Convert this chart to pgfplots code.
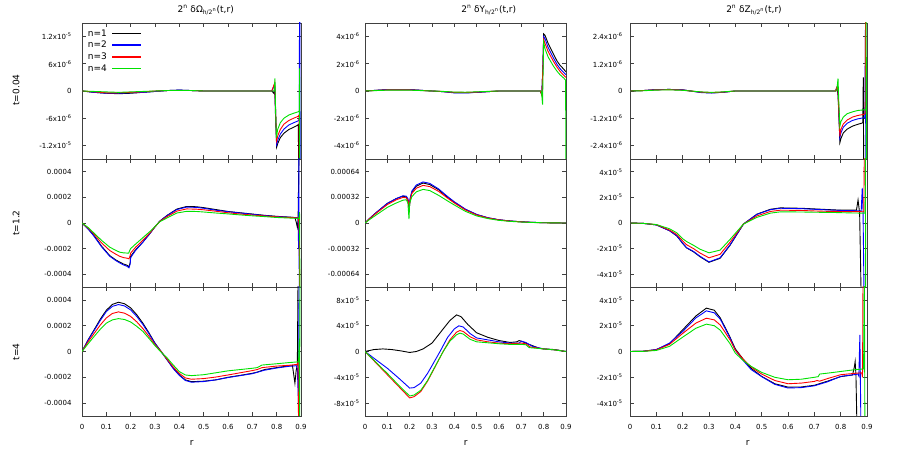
\documentclass[border=0pt]{standalone}
\usepackage{fontspec}
\setmainfont{DejaVu Sans}
\usepackage{pgfplots}
\pgfplotsset{compat=1.18}
\definecolor{cgreen}{RGB}{0,225,0}
\definecolor{cblue}{RGB}{0,0,255}
\definecolor{cred}{RGB}{255,0,0}
\newcommand{\tk}{\fontsize{7}{8}\selectfont}
\newcommand{\lab}{\fontsize{9}{10}\selectfont}
\newcommand{\sx}[1]{x10\textsuperscript{#1}}
\pgfplotsset{
  panel/.style={
    scale only axis, anchor=south west, xmin=0, xmax=0.9,
    xtick={0,0.1,0.2,0.3,0.4,0.5,0.6,0.7,0.8,0.9},
    xticklabels={},
    scaled y ticks=false, scaled x ticks=false,
    axis line style={black!75, line width=0.7pt},
    tick style={black!75, line width=0.6pt},
    major tick length=4pt,
    tick label style={font=\tk},
    every axis plot/.append style={line width=0.9pt, mark=none},
    clip=true,
  },
  bottom/.style={xticklabels={0,0.1,0.2,0.3,0.4,0.5,0.6,0.7,0.8,0.9}, xticklabel style={yshift=-5pt}},
  c1/.style={width=219pt, yticklabel style={xshift=-7pt}},
  c2/.style={width=201pt, yticklabel style={xshift=-2pt}},
  c3/.style={width=237pt, yticklabel style={xshift=-4pt}},
  r1/.style={height=136pt},
  r2/.style={height=128pt},
  r3/.style={height=129pt},
}
\begin{document}
\begin{tikzpicture}
\path[use as bounding box] (0,0) rectangle (913pt,457pt);
% ---------------- Row 1 ----------------
\begin{axis}[panel,c1,r1,at={(82pt,298pt)},
  ymin=-1.5e-5,ymax=1.5e-5, ytick={-1.2e-5,-6e-6,0,6e-6,1.2e-5},
  yticklabels={-1.2\sx{-5},-6\sx{-6},0,6\sx{-6},1.2\sx{-5}},
  legend plot pos=right, legend cell align=left,
  legend image code/.code={\draw[#1, line width=1.4pt] (0pt,0pt) -- (29pt,0pt);},
  legend style={draw=none, fill=none, at={(0.015,0.975)}, anchor=north west, font=\lab, inner sep=1pt, row sep=0.3pt, column sep=3pt,
    nodes={inner sep=1.5pt, text height=7pt, text depth=1.5pt}}]
\addplot[black] coordinates {(0,0)(0.05,-3e-7)(0.1,-5e-7)(0.15,-6e-7)(0.2,-5e-7)(0.25,-3e-7)(0.3,-1e-7)(0.35,1e-7)(0.4,2e-7)(0.45,1e-7)(0.5,0)(0.6,0)(0.7,0)(0.78,0)(0.788,-5e-7)(0.792,1e-6)(0.795,-5e-6)(0.8,-1.24e-5)(0.805,-1.15e-5)(0.815,-1.03e-5)(0.83,-9.3e-6)(0.85,-8.5e-6)(0.87,-8e-6)(0.885,-7.6e-6)(0.889,-7.4e-6)(0.892,-3e-5)};
\addplot[cblue] coordinates {(0,0)(0.05,-3e-7)(0.1,-5e-7)(0.15,-5e-7)(0.2,-4e-7)(0.25,-3e-7)(0.3,-1e-7)(0.35,1e-7)(0.4,2e-7)(0.45,1e-7)(0.5,0)(0.6,0)(0.7,0)(0.78,0)(0.792,1.5e-6)(0.796,-5e-6)(0.8,-1.18e-5)(0.805,-1.08e-5)(0.815,-9.5e-6)(0.83,-8.4e-6)(0.85,-7.5e-6)(0.87,-7e-6)(0.888,-6.6e-6)(0.893,-6.2e-6)(0.895,5e-5)(0.897,-5e-5)};
\addplot[cred] coordinates {(0,0)(0.05,-2e-7)(0.1,-4e-7)(0.15,-4e-7)(0.2,-3e-7)(0.25,-2e-7)(0.3,0)(0.35,1e-7)(0.4,1e-7)(0.45,1e-7)(0.5,0)(0.6,0)(0.7,0)(0.78,0)(0.792,1.8e-6)(0.796,-5e-6)(0.8,-1.1e-5)(0.805,-9.8e-6)(0.815,-8.5e-6)(0.83,-7.3e-6)(0.85,-6.5e-6)(0.87,-6e-6)(0.888,-5.6e-6)(0.892,-5.3e-6)(0.894,-5e-5)};
\addplot[cgreen] coordinates {(0,0)(0.05,-1e-7)(0.1,-2e-7)(0.15,-3e-7)(0.2,-2e-7)(0.25,-1e-7)(0.3,0)(0.35,1e-7)(0.4,1e-7)(0.45,1e-7)(0.5,0)(0.6,0)(0.7,0)(0.79,0)(0.793,2.8e-6)(0.796,-5e-6)(0.799,-1.03e-5)(0.804,-8.5e-6)(0.815,-7e-6)(0.83,-6e-6)(0.85,-5.3e-6)(0.87,-4.9e-6)(0.888,-4.6e-6)(0.893,-4.4e-6)(0.894,5e-6)(0.895,-5e-5)};
\legend{n=1,n=2,n=3,n=4}
\end{axis}
\begin{axis}[panel,c2,r1,at={(365pt,298pt)},
  ymin=-5e-6,ymax=5e-6, ytick={-4e-6,-2e-6,0,2e-6,4e-6},
  yticklabels={-4\sx{-6},-2\sx{-6},0,2\sx{-6},4\sx{-6}}]
\addplot[black] coordinates {(0,0)(0.05,5e-8)(0.1,1e-7)(0.15,1e-7)(0.2,1e-7)(0.25,5e-8)(0.3,0)(0.35,-5e-8)(0.4,-1.2e-7)(0.45,-1.3e-7)(0.5,-1e-7)(0.55,-5e-8)(0.6,0)(0.7,0)(0.785,0)(0.792,-3e-7)(0.797,2e-6)(0.8,4.2e-6)(0.806,4.1e-6)(0.82,3.5e-6)(0.843,2.74e-6)(0.86,2.2e-6)(0.873,1.9e-6)(0.89,1.6e-6)(0.9,1.4e-6)};
\addplot[cblue] coordinates {(0,0)(0.05,5e-8)(0.1,1e-7)(0.15,1e-7)(0.2,1e-7)(0.25,5e-8)(0.3,0)(0.35,-5e-8)(0.4,-1.4e-7)(0.45,-1.5e-7)(0.5,-1e-7)(0.55,-5e-8)(0.6,0)(0.7,0)(0.785,0)(0.792,-2e-7)(0.797,2e-6)(0.8,4.0e-6)(0.806,3.85e-6)(0.82,3.2e-6)(0.843,2.45e-6)(0.86,1.95e-6)(0.873,1.65e-6)(0.89,1.35e-6)(0.9,1.2e-6)};
\addplot[cred] coordinates {(0,0)(0.05,4e-8)(0.1,8e-8)(0.15,8e-8)(0.2,8e-8)(0.25,4e-8)(0.3,0)(0.35,-4e-8)(0.4,-1e-7)(0.45,-1.1e-7)(0.5,-8e-8)(0.55,-4e-8)(0.6,0)(0.7,0)(0.785,0)(0.792,-3e-7)(0.797,2e-6)(0.8,3.8e-6)(0.806,3.5e-6)(0.82,2.9e-6)(0.843,2.2e-6)(0.86,1.75e-6)(0.873,1.45e-6)(0.89,1.15e-6)(0.9,1.0e-6)};
\addplot[cgreen] coordinates {(0,0)(0.05,3e-8)(0.1,6e-8)(0.15,6e-8)(0.2,6e-8)(0.25,3e-8)(0.3,0)(0.35,-3e-8)(0.4,-8e-8)(0.45,-9e-8)(0.5,-6e-8)(0.55,-3e-8)(0.6,0)(0.7,0)(0.79,0)(0.795,-1.0e-6)(0.797,1e-6)(0.8,3.6e-6)(0.806,3.1e-6)(0.82,2.5e-6)(0.843,1.85e-6)(0.86,1.45e-6)(0.873,1.2e-6)(0.89,0.95e-6)(0.898,0.8e-6)(0.9,-6e-6)};
\end{axis}
\begin{axis}[panel,c3,r1,at={(630pt,298pt)},
  ymin=-3e-6,ymax=3e-6, ytick={-2.4e-6,-1.2e-6,0,1.2e-6,2.4e-6},
  yticklabels={-2.4\sx{-6},-1.2\sx{-6},0,1.2\sx{-6},2.4\sx{-6}}]
\addplot[black] coordinates {(0,0)(0.05,2e-8)(0.1,6e-8)(0.15,7e-8)(0.2,5e-8)(0.23,0)(0.27,-6e-8)(0.31,-8e-8)(0.35,-6e-8)(0.4,0)(0.5,0)(0.6,0)(0.7,0)(0.78,0)(0.787,1e-7)(0.79,-2e-7)(0.793,-1e-6)(0.797,-2.28e-6)(0.801,-2.1e-6)(0.81,-1.85e-6)(0.825,-1.68e-6)(0.845,-1.55e-6)(0.865,-1.47e-6)(0.88,-1.42e-6)(0.884,-1.4e-6)(0.886,0.6e-6)(0.888,-5e-6)};
\addplot[cblue] coordinates {(0,0)(0.05,2e-8)(0.1,6e-8)(0.15,7e-8)(0.2,5e-8)(0.23,0)(0.27,-7e-8)(0.31,-9e-8)(0.35,-6e-8)(0.4,0)(0.5,0)(0.6,0)(0.7,0)(0.78,0)(0.787,2e-7)(0.79,0)(0.797,-2.06e-6)(0.801,-1.85e-6)(0.81,-1.6e-6)(0.825,-1.42e-6)(0.845,-1.3e-6)(0.865,-1.23e-6)(0.888,-1.18e-6)(0.892,-1.15e-6)(0.894,2.7e-6)(0.896,-5e-6)};
\addplot[cred] coordinates {(0,0)(0.05,2e-8)(0.1,5e-8)(0.15,6e-8)(0.2,4e-8)(0.23,0)(0.27,-5e-8)(0.31,-7e-8)(0.35,-5e-8)(0.4,0)(0.5,0)(0.6,0)(0.7,0)(0.78,0)(0.787,2e-7)(0.79,0)(0.797,-2.0e-6)(0.801,-1.7e-6)(0.81,-1.45e-6)(0.825,-1.28e-6)(0.845,-1.15e-6)(0.865,-1.08e-6)(0.888,-1.03e-6)(0.893,-1e-6)(0.895,5e-6)};
\addplot[cgreen] coordinates {(0,0)(0.05,1e-8)(0.1,4e-8)(0.15,5e-8)(0.2,3e-8)(0.23,0)(0.27,-4e-8)(0.31,-6e-8)(0.35,-4e-8)(0.4,0)(0.5,0)(0.6,0)(0.7,0)(0.785,0)(0.79,5.5e-7)(0.793,-5e-7)(0.797,-1.56e-6)(0.801,-1.35e-6)(0.81,-1.15e-6)(0.825,-1.0e-6)(0.845,-0.92e-6)(0.865,-0.86e-6)(0.89,-0.83e-6)(0.896,-0.83e-6)(0.897,5e-6)(0.898,-5e-6)};
\end{axis}
% ---------------- Row 2 ----------------
\begin{axis}[panel,c1,r2,at={(82pt,170pt)},
  ymin=-5e-4,ymax=5e-4, ytick={-4e-4,-2e-4,0,2e-4,4e-4},
  yticklabels={-0.0004,-0.0002,0,0.0002,0.0004}]
\addplot[black] coordinates {(0,0)(0.025,-4.5e-5)(0.05,-1.0e-4)(0.08,-1.8e-4)(0.114,-2.55e-4)(0.14,-2.9e-4)(0.155,-3.05e-4)(0.17,-3.2e-4)(0.185,-3.3e-4)(0.193,-3.42e-4)(0.198,-3.1e-4)(0.2,-2.6e-4)(0.22,-2.1e-4)(0.25,-1.5e-4)(0.28,-8e-5)(0.3,-3e-5)(0.32,1.5e-5)(0.35,6e-5)(0.39,1.09e-4)(0.43,1.29e-4)(0.47,1.27e-4)(0.5,1.2e-4)(0.55,1.05e-4)(0.6,9e-5)(0.65,8e-5)(0.7,7e-5)(0.75,6e-5)(0.8,5.2e-5)(0.86,4.5e-5)(0.875,4.2e-5)(0.88,1e-5)(0.885,-3.4e-5)(0.888,2e-5)(0.892,6e-4)};
\addplot[cblue] coordinates {(0,0)(0.025,-4.7e-5)(0.05,-1.05e-4)(0.08,-1.85e-4)(0.114,-2.6e-4)(0.14,-2.95e-4)(0.155,-3.12e-4)(0.17,-3.27e-4)(0.185,-3.38e-4)(0.193,-3.5e-4)(0.198,-3.2e-4)(0.2,-2.7e-4)(0.22,-2.15e-4)(0.25,-1.5e-4)(0.28,-8e-5)(0.3,-3e-5)(0.32,1.5e-5)(0.35,5.8e-5)(0.39,1.05e-4)(0.43,1.24e-4)(0.47,1.22e-4)(0.5,1.15e-4)(0.55,1.0e-4)(0.6,8.8e-5)(0.65,7.8e-5)(0.7,6.8e-5)(0.75,5.8e-5)(0.8,5e-5)(0.86,4.4e-5)(0.888,4.2e-5)(0.89,-2e-4)(0.891,6e-4)(0.893,-6e-4)};
\addplot[cred] coordinates {(0,0)(0.025,-4e-5)(0.05,-8.8e-5)(0.08,-1.55e-4)(0.114,-2.15e-4)(0.14,-2.45e-4)(0.155,-2.6e-4)(0.17,-2.7e-4)(0.185,-2.75e-4)(0.193,-2.8e-4)(0.197,-2.6e-4)(0.2,-2.35e-4)(0.22,-1.9e-4)(0.25,-1.35e-4)(0.28,-7.5e-5)(0.3,-3e-5)(0.32,1.3e-5)(0.35,5e-5)(0.39,9.3e-5)(0.43,1.1e-4)(0.47,1.08e-4)(0.5,1.03e-4)(0.55,9.2e-5)(0.6,8e-5)(0.65,7e-5)(0.7,6.2e-5)(0.75,5.5e-5)(0.8,4.8e-5)(0.86,4.2e-5)(0.89,4e-5)(0.893,-1e-4)(0.895,-6e-4)};
\addplot[cgreen] coordinates {(0,0)(0.025,-3.5e-5)(0.05,-8e-5)(0.08,-1.35e-4)(0.114,-1.89e-4)(0.14,-2.15e-4)(0.155,-2.28e-4)(0.17,-2.33e-4)(0.185,-2.35e-4)(0.192,-2.35e-4)(0.196,-2.15e-4)(0.2,-2.0e-4)(0.22,-1.65e-4)(0.25,-1.15e-4)(0.28,-6.5e-5)(0.3,-2.8e-5)(0.32,1e-5)(0.35,4e-5)(0.39,7.8e-5)(0.43,9.1e-5)(0.47,9e-5)(0.5,8.6e-5)(0.55,7.8e-5)(0.6,7.1e-5)(0.65,6.3e-5)(0.7,5.6e-5)(0.75,5e-5)(0.8,4.3e-5)(0.86,3.8e-5)(0.892,3.6e-5)(0.894,8.5e-5)(0.896,-6e-4)};
\end{axis}
\begin{axis}[panel,c2,r2,at={(365pt,170pt)},
  ymin=-8e-4,ymax=8e-4, ytick={-6.4e-4,-3.2e-4,0,3.2e-4,6.4e-4},
  yticklabels={-0.00064,-0.00032,0,0.00032,0.00064}]
\addplot[black] coordinates {(0,0)(0.02,5.5e-5)(0.05,1.3e-4)(0.1,2.45e-4)(0.14,3.05e-4)(0.17,3.35e-4)(0.185,3.25e-4)(0.193,2.7e-4)(0.198,1.7e-4)(0.202,2.9e-4)(0.21,3.9e-4)(0.23,4.6e-4)(0.26,5.0e-4)(0.29,4.8e-4)(0.33,4.15e-4)(0.37,3.2e-4)(0.4,2.6e-4)(0.45,1.7e-4)(0.5,1.05e-4)(0.55,6.5e-5)(0.6,4e-5)(0.65,2.5e-5)(0.7,1.5e-5)(0.75,8e-6)(0.8,4e-6)(0.85,1e-6)(0.9,0)};
\addplot[cblue] coordinates {(0,0)(0.02,5.5e-5)(0.05,1.3e-4)(0.1,2.45e-4)(0.14,3.05e-4)(0.17,3.4e-4)(0.185,3.35e-4)(0.193,3.0e-4)(0.198,2.0e-4)(0.202,3.1e-4)(0.21,4.0e-4)(0.23,4.75e-4)(0.26,5.13e-4)(0.29,4.95e-4)(0.33,4.25e-4)(0.37,3.3e-4)(0.4,2.65e-4)(0.45,1.72e-4)(0.5,1.07e-4)(0.55,6.6e-5)(0.6,4e-5)(0.65,2.5e-5)(0.7,1.5e-5)(0.75,8e-6)(0.8,4e-6)(0.85,1e-6)(0.9,0)};
\addplot[cred] coordinates {(0,0)(0.02,5.2e-5)(0.05,1.22e-4)(0.1,2.3e-4)(0.14,2.9e-4)(0.17,3.2e-4)(0.185,3.15e-4)(0.193,2.8e-4)(0.198,2.0e-4)(0.202,2.9e-4)(0.21,3.7e-4)(0.23,4.35e-4)(0.26,4.7e-4)(0.29,4.55e-4)(0.33,3.95e-4)(0.37,3.1e-4)(0.4,2.5e-4)(0.45,1.62e-4)(0.5,1.0e-4)(0.55,6.2e-5)(0.6,3.8e-5)(0.65,2.4e-5)(0.7,1.4e-5)(0.75,7e-6)(0.8,3e-6)(0.85,1e-6)(0.9,0)};
\addplot[cgreen] coordinates {(0,0)(0.02,4.2e-5)(0.05,1.0e-4)(0.1,1.95e-4)(0.14,2.5e-4)(0.17,2.85e-4)(0.185,2.9e-4)(0.192,2.5e-4)(0.197,5e-5)(0.2,2.5e-4)(0.21,3.3e-4)(0.23,3.9e-4)(0.26,4.2e-4)(0.29,4.05e-4)(0.33,3.45e-4)(0.37,2.75e-4)(0.4,2.25e-4)(0.45,1.45e-4)(0.5,8.8e-5)(0.55,5.5e-5)(0.6,3.3e-5)(0.65,2e-5)(0.7,1.2e-5)(0.75,6e-6)(0.8,3e-6)(0.85,1e-6)(0.9,0)};
\end{axis}
\begin{axis}[panel,c3,r2,at={(630pt,170pt)},
  ymin=-5e-5,ymax=5e-5, ytick={-4e-5,-2e-5,0,2e-5,4e-5},
  yticklabels={-4\sx{-5},-2\sx{-5},0,2\sx{-5},4\sx{-5}}]
\addplot[black] coordinates {(0,0)(0.05,-3e-7)(0.1,-1.5e-6)(0.15,-6e-6)(0.178,-1.02e-5)(0.2,-1.6e-5)(0.215,-1.95e-5)(0.241,-2.25e-5)(0.266,-2.64e-5)(0.3,-3.07e-5)(0.342,-2.76e-5)(0.38,-1.74e-5)(0.431,-8e-7)(0.482,6.9e-6)(0.533,1.07e-5)(0.571,1.18e-5)(0.65,1.15e-5)(0.7,1.1e-5)(0.75,1.05e-5)(0.8,1.0e-5)(0.86,1.0e-5)(0.866,1.8e-5)(0.872,8e-6)(0.878,-6e-5)};
\addplot[cblue] coordinates {(0,0)(0.05,-3e-7)(0.1,-1.5e-6)(0.15,-6e-6)(0.178,-1.0e-5)(0.2,-1.58e-5)(0.215,-1.93e-5)(0.241,-2.22e-5)(0.266,-2.6e-5)(0.3,-3.04e-5)(0.342,-2.72e-5)(0.38,-1.7e-5)(0.431,-8e-7)(0.482,6.7e-6)(0.533,1.04e-5)(0.571,1.15e-5)(0.65,1.12e-5)(0.7,1.07e-5)(0.75,1.02e-5)(0.8,9.8e-6)(0.878,9.5e-6)(0.882,2.75e-5)(0.885,9e-6)(0.889,-6e-5)};
\addplot[cred] coordinates {(0,0)(0.05,-3e-7)(0.1,-1.3e-6)(0.15,-5.5e-6)(0.178,-9e-6)(0.2,-1.4e-5)(0.215,-1.7e-5)(0.241,-2.0e-5)(0.266,-2.35e-5)(0.3,-2.72e-5)(0.342,-2.45e-5)(0.38,-1.5e-5)(0.431,-8e-7)(0.482,5.5e-6)(0.533,9e-6)(0.571,1.0e-5)(0.65,9.8e-6)(0.7,9.4e-6)(0.75,9.1e-6)(0.8,9e-6)(0.888,8.8e-6)(0.89,6e-5)};
\addplot[cgreen] coordinates {(0,0)(0.05,-3e-7)(0.1,-1.2e-6)(0.15,-4.5e-6)(0.178,-7.7e-6)(0.2,-1.23e-5)(0.215,-1.45e-5)(0.241,-1.74e-5)(0.266,-2.05e-5)(0.3,-2.33e-5)(0.342,-2.12e-5)(0.38,-1.28e-5)(0.431,-8e-7)(0.482,4.4e-6)(0.533,7.7e-6)(0.571,8.7e-6)(0.65,8.6e-6)(0.7,8.4e-6)(0.774,8.2e-6)(0.85,7.8e-6)(0.893,7.7e-6)(0.894,6e-5)(0.895,-6e-5)};
\end{axis}
% ---------------- Row 3 ----------------
\begin{axis}[panel,c1,r3,bottom,at={(82pt,41pt)},
  ymin=-5e-4,ymax=5e-4, ytick={-4e-4,-2e-4,0,2e-4,4e-4},
  yticklabels={-0.0004,-0.0002,0,0.0002,0.0004}]
\addplot[black] coordinates {(0,0)(0.025,9e-5)(0.05,1.69e-4)(0.075,2.5e-4)(0.1,3.2e-4)(0.125,3.65e-4)(0.15,3.82e-4)(0.175,3.7e-4)(0.2,3.38e-4)(0.225,2.85e-4)(0.25,2.2e-4)(0.275,1.45e-4)(0.3,6.5e-5)(0.325,0)(0.35,-6.5e-5)(0.375,-1.3e-4)(0.4,-1.82e-4)(0.425,-2.2e-4)(0.45,-2.34e-4)(0.5,-2.3e-4)(0.55,-2.2e-4)(0.6,-2.0e-4)(0.65,-1.85e-4)(0.7,-1.69e-4)(0.72,-1.6e-4)(0.75,-1.4e-4)(0.8,-1.25e-4)(0.85,-1.11e-4)(0.865,-1.1e-4)(0.875,-2.46e-4)(0.88,-1.5e-4)(0.885,-1e-4)(0.888,6e-4)};
\addplot[cblue] coordinates {(0,0)(0.025,8.7e-5)(0.05,1.63e-4)(0.075,2.4e-4)(0.1,3.1e-4)(0.125,3.5e-4)(0.15,3.64e-4)(0.175,3.53e-4)(0.2,3.22e-4)(0.225,2.72e-4)(0.25,2.1e-4)(0.275,1.38e-4)(0.3,6.2e-5)(0.325,0)(0.35,-6.5e-5)(0.375,-1.32e-4)(0.4,-1.85e-4)(0.425,-2.25e-4)(0.45,-2.38e-4)(0.5,-2.33e-4)(0.55,-2.2e-4)(0.6,-2.02e-4)(0.65,-1.87e-4)(0.7,-1.72e-4)(0.75,-1.45e-4)(0.8,-1.28e-4)(0.85,-1.15e-4)(0.88,-1.1e-4)(0.885,-1.3e-4)(0.89,-4.37e-4)(0.892,6e-4)};
\addplot[cred] coordinates {(0,0)(0.025,7.5e-5)(0.05,1.4e-4)(0.075,2.05e-4)(0.1,2.6e-4)(0.125,2.95e-4)(0.15,3.07e-4)(0.175,2.97e-4)(0.2,2.72e-4)(0.225,2.3e-4)(0.25,1.78e-4)(0.275,1.18e-4)(0.3,5.3e-5)(0.325,0)(0.35,-6e-5)(0.375,-1.2e-4)(0.4,-1.7e-4)(0.425,-2.05e-4)(0.45,-2.15e-4)(0.5,-2.1e-4)(0.55,-1.98e-4)(0.6,-1.82e-4)(0.65,-1.65e-4)(0.7,-1.48e-4)(0.72,-1.4e-4)(0.74,-1.25e-4)(0.8,-1.13e-4)(0.85,-1.07e-4)(0.885,-1.0e-4)(0.888,-8e-5)(0.89,-6e-4)};
\addplot[cgreen] coordinates {(0,0)(0.025,6e-5)(0.05,1.17e-4)(0.075,1.72e-4)(0.1,2.2e-4)(0.125,2.45e-4)(0.15,2.55e-4)(0.175,2.48e-4)(0.2,2.29e-4)(0.225,1.95e-4)(0.25,1.56e-4)(0.275,1.02e-4)(0.3,4.5e-5)(0.325,-5e-6)(0.35,-5e-5)(0.375,-1.05e-4)(0.4,-1.56e-4)(0.425,-1.82e-4)(0.45,-1.87e-4)(0.5,-1.8e-4)(0.55,-1.65e-4)(0.6,-1.5e-4)(0.65,-1.4e-4)(0.7,-1.3e-4)(0.72,-1.25e-4)(0.74,-1.05e-4)(0.8,-9.5e-5)(0.85,-8.6e-5)(0.89,-8e-5)(0.893,1e-4)(0.894,-6e-4)(0.896,6e-4)};
\end{axis}
\begin{axis}[panel,c2,r3,bottom,at={(365pt,41pt)},
  ymin=-1e-4,ymax=1e-4, ytick={-8e-5,-4e-5,0,4e-5,8e-5},
  yticklabels={-8\sx{-5},-4\sx{-5},0,4\sx{-5},8\sx{-5}}]
\addplot[black] coordinates {(0,0)(0.04,3e-6)(0.08,4e-6)(0.12,3e-6)(0.16,1e-6)(0.2,-1.5e-6)(0.23,0)(0.26,4e-6)(0.3,1.3e-5)(0.35,3.5e-5)(0.38,4.8e-5)(0.41,5.68e-5)(0.43,5.4e-5)(0.46,4.2e-5)(0.5,2.9e-5)(0.55,2.2e-5)(0.6,1.7e-5)(0.65,1.4e-5)(0.68,1.5e-5)(0.69,1.7e-5)(0.7,1.6e-5)(0.72,1.3e-5)(0.75,9e-6)(0.78,5e-6)(0.8,4e-6)(0.85,3e-6)(0.9,0)};
\addplot[cblue] coordinates {(0,0)(0.05,-1.3e-5)(0.1,-2.6e-5)(0.15,-4.1e-5)(0.2,-5.67e-5)(0.22,-5.6e-5)(0.25,-4.9e-5)(0.28,-3.4e-5)(0.3,-2.2e-5)(0.336,0)(0.37,2.2e-5)(0.4,3.5e-5)(0.42,3.98e-5)(0.44,3.8e-5)(0.47,2.8e-5)(0.5,2.1e-5)(0.55,1.8e-5)(0.6,1.5e-5)(0.65,1.3e-5)(0.69,1.3e-5)(0.7,1.6e-5)(0.72,1.4e-5)(0.75,8e-6)(0.8,4e-6)(0.85,2.5e-6)(0.9,0)};
\addplot[cred] coordinates {(0,0)(0.05,-1.8e-5)(0.1,-3.6e-5)(0.15,-5.4e-5)(0.2,-7.2e-5)(0.22,-7.0e-5)(0.25,-6.2e-5)(0.28,-4.6e-5)(0.3,-3.3e-5)(0.35,0)(0.38,1.8e-5)(0.41,3.0e-5)(0.425,3.25e-5)(0.44,3.1e-5)(0.47,2.3e-5)(0.5,1.8e-5)(0.55,1.5e-5)(0.6,1.3e-5)(0.65,1.2e-5)(0.7,1.3e-5)(0.72,1.2e-5)(0.74,7e-6)(0.8,4e-6)(0.85,2.5e-6)(0.9,0)};
\addplot[cgreen] coordinates {(0,0)(0.05,-1.7e-5)(0.1,-3.4e-5)(0.15,-5.2e-5)(0.2,-6.9e-5)(0.22,-6.75e-5)(0.25,-6.0e-5)(0.28,-4.5e-5)(0.3,-3.2e-5)(0.35,0)(0.38,1.6e-5)(0.41,2.6e-5)(0.425,2.84e-5)(0.44,2.7e-5)(0.47,1.9e-5)(0.5,1.5e-5)(0.55,1.35e-5)(0.6,1.2e-5)(0.65,1.1e-5)(0.7,1.1e-5)(0.72,1.05e-5)(0.735,6e-6)(0.8,4e-6)(0.85,2.5e-6)(0.9,0)};
\end{axis}
\begin{axis}[panel,c3,r3,bottom,at={(630pt,41pt)},
  ymin=-5e-5,ymax=5e-5, ytick={-4e-5,-2e-5,0,2e-5,4e-5},
  yticklabels={-4\sx{-5},-2\sx{-5},0,2\sx{-5},4\sx{-5}}]
\addplot[black] coordinates {(0,0)(0.05,2e-7)(0.1,1.5e-6)(0.15,6e-6)(0.2,1.68e-5)(0.25,2.75e-5)(0.29,3.36e-5)(0.32,3.2e-5)(0.343,2.6e-5)(0.38,1.1e-5)(0.4,2e-6)(0.43,-6e-6)(0.46,-1.3e-5)(0.5,-1.93e-5)(0.55,-2.5e-5)(0.6,-2.76e-5)(0.65,-2.75e-5)(0.7,-2.62e-5)(0.75,-2.3e-5)(0.8,-1.95e-5)(0.845,-1.82e-5)(0.852,-1.2e-5)(0.855,-7.7e-6)(0.858,-1.8e-5)(0.862,-6e-5)};
\addplot[cblue] coordinates {(0,0)(0.05,2e-7)(0.1,1.5e-6)(0.15,6.5e-6)(0.2,1.55e-5)(0.25,2.6e-5)(0.29,3.15e-5)(0.32,3.0e-5)(0.343,2.5e-5)(0.38,1.05e-5)(0.4,1e-6)(0.43,-7e-6)(0.46,-1.4e-5)(0.5,-1.95e-5)(0.55,-2.55e-5)(0.6,-2.83e-5)(0.65,-2.8e-5)(0.7,-2.66e-5)(0.75,-2.35e-5)(0.8,-1.93e-5)(0.85,-1.8e-5)(0.866,-1.75e-5)(0.869,-1.9e-5)(0.873,1.29e-5)(0.877,-6e-5)};
\addplot[cred] coordinates {(0,0)(0.05,2e-7)(0.1,1.2e-6)(0.15,5.5e-6)(0.2,1.4e-5)(0.25,2.2e-5)(0.29,2.58e-5)(0.32,2.45e-5)(0.343,2.05e-5)(0.38,9e-6)(0.4,1e-6)(0.43,-6e-6)(0.46,-1.2e-5)(0.5,-1.75e-5)(0.55,-2.25e-5)(0.6,-2.5e-5)(0.65,-2.45e-5)(0.7,-2.32e-5)(0.71,-2.25e-5)(0.72,-2.3e-5)(0.75,-2.1e-5)(0.8,-1.8e-5)(0.85,-1.7e-5)(0.88,-1.65e-5)(0.883,-2e-5)(0.885,6e-5)};
\addplot[cgreen] coordinates {(0,0)(0.05,1e-7)(0.1,8e-7)(0.15,4e-6)(0.2,1.11e-5)(0.25,1.8e-5)(0.29,2.12e-5)(0.32,2.0e-5)(0.343,1.65e-5)(0.38,6e-6)(0.4,-1.3e-6)(0.43,-7e-6)(0.46,-1.15e-5)(0.5,-1.62e-5)(0.55,-2.0e-5)(0.6,-2.19e-5)(0.65,-2.15e-5)(0.7,-2.0e-5)(0.715,-1.95e-5)(0.72,-1.75e-5)(0.75,-1.68e-5)(0.8,-1.55e-5)(0.85,-1.42e-5)(0.887,-1.35e-5)(0.89,6e-5)(0.892,-6e-5)};
\end{axis}
% ---------------- labels ----------------
\node[font=\lab] at (205.7pt,447pt) {2\textsuperscript{n} δΩ\textsubscript{h/2\textsuperscript{n}}(t,r)};
\node[font=\lab] at (488.7pt,447pt) {2\textsuperscript{n} δY\textsubscript{h/2\textsuperscript{n}}(t,r)};
\node[font=\lab] at (754pt,447pt) {2\textsuperscript{n} δZ\textsubscript{h/2\textsuperscript{n}}(t,r)};
\node[font=\lab, rotate=90] at (16pt,367pt) {t=0.04};
\node[font=\lab, rotate=90] at (16pt,234pt) {t=1.2};
\node[font=\lab, rotate=90] at (16pt,105pt) {t=4};
\node[font=\lab] at (191.7pt,14pt) {r};
\node[font=\lab] at (465.7pt,14pt) {r};
\node[font=\lab] at (747.7pt,14pt) {r};
\end{tikzpicture}
\end{document}
